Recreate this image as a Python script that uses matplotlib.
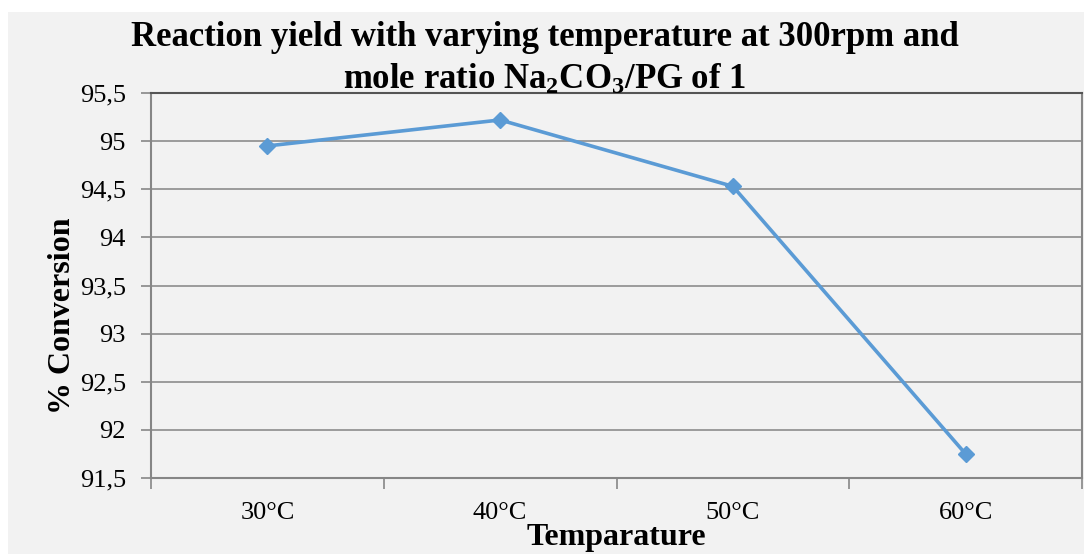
import matplotlib.pyplot as plt
import matplotlib.patches as patches
from matplotlib.ticker import FixedLocator, FuncFormatter

# temperature series
temps = ['30°C', '40°C', '50°C', '60°C']
conversion = [94.95, 95.22, 94.53, 91.75]
y_ticks = [91.5, 92, 92.5, 93, 93.5, 94, 94.5, 95, 95.5]

plt.rcParams['font.family'] = ['Liberation Serif', 'DejaVu Serif']
plt.rcParams['mathtext.fontset'] = 'custom'
plt.rcParams['mathtext.rm'] = 'Liberation Serif:bold'
plt.rcParams['mathtext.it'] = 'Liberation Serif:bold'
plt.rcParams['mathtext.bf'] = 'Liberation Serif:bold'

fig = plt.figure(figsize=(10.84, 5.54), dpi=100, facecolor='white')
# grey chart area behind everything
fig.patches.append(patches.Rectangle((8 / 1084, 0), 1, 1 - 12 / 554,
                                     transform=fig.transFigure,
                                     facecolor='#f2f2f2', edgecolor='none', zorder=-10))

ax = fig.add_axes([151 / 1084, 76 / 554, 931 / 1084, 385 / 554])
ax.set_facecolor('#f2f2f2')

x = list(range(1, len(temps) + 1))
ax.plot(x, conversion, color='#5b9bd5', lw=2.6, marker='D', ms=8.5,
        markeredgecolor='#5b9bd5', zorder=3)

ax.set_xlim(0.5, len(temps) + 0.5)
ax.set_ylim(91.5, 95.5)
ax.set_xticks(x)
ax.set_xticklabels(temps)
ax.xaxis.set_minor_locator(FixedLocator([i + 0.5 for i in range(0, len(temps) + 1)]))
ax.tick_params(axis='x', which='major', length=0, pad=17, labelsize=19)
ax.tick_params(axis='x', which='minor', length=8, width=1.2, color='#868686')

ax.set_yticks(y_ticks)
ax.yaxis.set_major_formatter(FuncFormatter(lambda v, p: ('%g' % v).replace('.', ',')))
ax.tick_params(axis='y', length=7, width=1.2, color='#868686', labelsize=19, pad=11)

ax.grid(axis='y', color='#8c8c8c', lw=1.2)
ax.set_axisbelow(True)
for s in ax.spines.values():
    s.set_color('#868686')
    s.set_linewidth(1.5)
ax.spines['top'].set_color('#555555')

fig.text(545 / 1084, 1 - 37 / 554, 'Reaction yield with varying temperature at 300rpm and',
         ha='center', va='center', fontsize=25, fontweight='bold')
fig.text(545 / 1084, 1 - 80 / 554, 'mole ratio Na$_2$CO$_3$/PG of 1',
         ha='center', va='center', fontsize=25, fontweight='bold')
fig.text(616 / 1084, 1 - 538 / 554, 'Temparature', ha='center', va='center',
         fontsize=23, fontweight='bold')
fig.text(62 / 1084, 1 - 316 / 554, '% Conversion', ha='center', va='center',
         rotation=90, fontsize=23, fontweight='bold')

fig.savefig('out.png', dpi=100, facecolor=fig.get_facecolor())
